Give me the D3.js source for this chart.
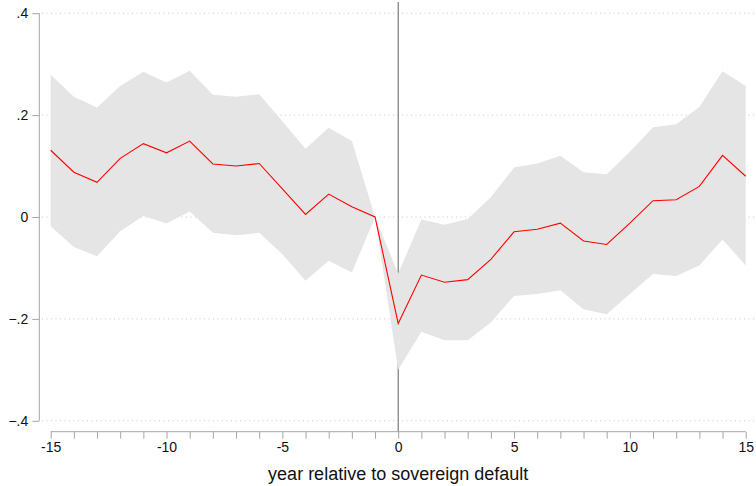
<!DOCTYPE html>
<html>
<head>
<meta charset="utf-8">
<script src="https://cdn.jsdelivr.net/npm/d3@7/dist/d3.min.js"></script>
<style>
  html, body { margin: 0; padding: 0; background: #fff; }
  svg { display: block; font-family: "Liberation Sans", Arial, sans-serif; }
</style>
</head>
<body>
<svg id="chart" width="756" height="486"></svg>
<script>
// Event-study estimates around a sovereign default (year -1 is the reference year)
const years = d3.range(-15, 16);
const estimate = [
  0.131, 0.088, 0.068, 0.115, 0.144, 0.126, 0.149, 0.104, 0.100, 0.105,
  0.055, 0.005, 0.045, 0.020, 0.000,
  -0.209, -0.114, -0.128, -0.123, -0.083, -0.029, -0.024, -0.012, -0.047, -0.054,
  -0.012, 0.032, 0.034, 0.060, 0.121, 0.080
];
const upper = [
  0.279, 0.236, 0.215, 0.257, 0.285, 0.264, 0.287, 0.240, 0.236, 0.241,
  0.188, 0.134, 0.175, 0.149, 0.000,
  -0.111, -0.005, -0.015, -0.004, 0.039, 0.097, 0.105, 0.120, 0.088, 0.084,
  0.128, 0.176, 0.182, 0.216, 0.286, 0.257
];
const lower = [
  -0.018, -0.059, -0.077, -0.028, 0.002, -0.013, 0.011, -0.031, -0.036, -0.031,
  -0.073, -0.125, -0.086, -0.109, 0.000,
  -0.300, -0.225, -0.242, -0.242, -0.207, -0.155, -0.151, -0.144, -0.181, -0.191,
  -0.151, -0.112, -0.116, -0.095, -0.044, -0.095
];
const yTicks = [0.4, 0.2, 0, -0.2, -0.4];
const xTickLabels = [-15, -10, -5, 0, 5, 10, 15];
const xTitle = "year relative to sovereign default";

const svg = d3.select("#chart");
const x = d3.scaleLinear().domain([-15, 15]).range([50.7, 745.7]);
const y = d3.scaleLinear().domain([-0.4, 0.4]).range([420.8, 13.2]);

const fmtY = v => v === 0 ? "0" : d3.format(".1f")(v).replace("0.", ".");

// horizontal dotted grid
svg.append("g").selectAll("line").data(yTicks).join("line")
  .attr("x1", 42).attr("x2", 756)
  .attr("y1", d => y(d)).attr("y2", d => y(d))
  .attr("stroke", "#c8c8c8").attr("stroke-width", 1)
  .attr("stroke-dasharray", "1,3.5");

// reference line at the default year
svg.append("line")
  .attr("x1", x(0)).attr("x2", x(0))
  .attr("y1", 2).attr("y2", 431.7)
  .attr("stroke", "#6e6e6e").attr("stroke-width", 1.1);

const rows = years.map((yr, i) => ({ yr, est: estimate[i], lo: lower[i], hi: upper[i] }));

// confidence band
svg.append("path").datum(rows)
  .attr("fill", "#e5e5e5")
  .attr("d", d3.area().x(d => x(d.yr)).y0(d => y(d.lo)).y1(d => y(d.hi)));

// point estimates
svg.append("path").datum(rows)
  .attr("fill", "none").attr("stroke", "#ff0000").attr("stroke-width", 1.1)
  .attr("d", d3.line().x(d => x(d.yr)).y(d => y(d.est)));

// y axis
const yAxis = svg.append("g").attr("transform", "translate(39.3,0)")
  .call(d3.axisLeft(y).tickValues(yTicks).tickFormat(fmtY).tickSize(7).tickPadding(4));
yAxis.select(".domain").attr("stroke", "#a6a6a6").attr("d", `M0,${y(0.4)}V${y(-0.4)}`);
yAxis.selectAll(".tick line").attr("stroke", "#a6a6a6");
yAxis.selectAll(".tick text").attr("fill", "#111").style("font-size", "14px")
  .style("font-family", "'Liberation Sans', Arial, sans-serif");

// x axis
const xAxis = svg.append("g").attr("transform", "translate(0,431.7)")
  .call(d3.axisBottom(x).tickValues(years).tickSize(7).tickPadding(3)
    .tickFormat(d => xTickLabels.includes(d) ? d3.format("d")(d).replace("−", "-") : ""));
xAxis.select(".domain").attr("stroke", "#a6a6a6").attr("d", `M${x(-15)},0H${x(15)}`);
xAxis.selectAll(".tick line").attr("stroke", "#a6a6a6");
xAxis.selectAll(".tick text").attr("fill", "#111").style("font-size", "14px")
  .style("font-family", "'Liberation Sans', Arial, sans-serif");

// axis title
svg.append("text")
  .attr("x", x(0)).attr("y", 480)
  .attr("text-anchor", "middle")
  .attr("fill", "#111")
  .style("font-size", "18px")
  .text(xTitle);
</script>
</body>
</html>
